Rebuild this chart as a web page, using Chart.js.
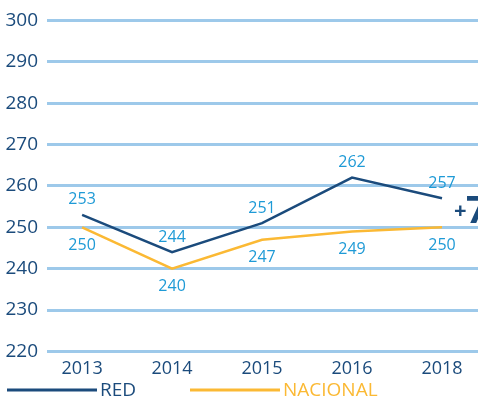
<!DOCTYPE html>
<html lang="es">
<head>
  <meta charset="UTF-8">
  <title>RED vs NACIONAL</title>
  <script src="https://cdn.jsdelivr.net/npm/chart.js@4/dist/chart.umd.min.js"></script>
  <style>
    body { margin: 0; background: #fff; }
    #wrap { width: 478px; height: 402px; }
  </style>
</head>
<body>
  <div id="wrap"><canvas id="myChart"></canvas></div>
  <script>
    const years = ['2013', '2014', '2015', '2016', '2018']
    const red = [253, 244, 251, 262, 257]
    const nacional = [250, 240, 247, 249, 250]
    const yTicks = [220, 230, 240, 250, 260, 270, 280, 290, 300]
    const diffText = '7'

    const NAVY = '#1b4b7c'
    const YELLOW = '#fbb934'
    const LABEL = '#1e9ad6'
    const GRID = '#9dc9ea'
    const FONT = '"Open Sans", "Noto Sans", sans-serif'

    const toPoints = arr => arr.map((v, i) => ({ x: i, y: v }))

    // value labels, "+7" and the legend are drawn by hand
    const extras = {
      id: 'extras',
      afterDatasetsDraw(chart) {
        const ctx = chart.ctx
        ctx.save()
        ctx.font = '16px ' + FONT
        ctx.fillStyle = LABEL
        ctx.textAlign = 'center'
        ctx.textBaseline = 'middle'
        chart.data.datasets.forEach((ds, di) => {
          const meta = chart.getDatasetMeta(di)
          meta.data.forEach((pt, i) => {
            ctx.fillText(String(ds.data[i].y), pt.x, pt.y + ds.labelShift)
          })
        })

        // +7 next to the last RED point
        const last = chart.getDatasetMeta(0).data[red.length - 1]
        const yMid = chart.scales.y.getPixelForValue((red[red.length - 1] + nacional[nacional.length - 1]) / 2)
        ctx.fillStyle = NAVY
        ctx.textAlign = 'left'
        ctx.textBaseline = 'alphabetic'
        ctx.font = 'bold 22px ' + FONT
        ctx.fillText('+', last.x + 12, yMid + 5)
        ctx.font = 'bold 38px ' + FONT
        ctx.fillText(diffText, last.x + 24, yMid + 10)

        // legend
        const ly = chart.height - 12
        const items = [{ x: 7 }, { x: 190 }]
        chart.data.datasets.forEach((ds, di) => {
          const x0 = items[di].x
          ctx.strokeStyle = ds.borderColor
          ctx.lineWidth = 3
          ctx.beginPath()
          ctx.moveTo(x0, ly)
          ctx.lineTo(x0 + 90, ly)
          ctx.stroke()
          ctx.fillStyle = ds.borderColor
          ctx.font = '19px ' + FONT
          ctx.textBaseline = 'middle'
          ctx.fillText(ds.label, x0 + 93, ly + 1)
        })
        ctx.restore()
      }
    }

    const ctx = document.getElementById('myChart').getContext('2d')
    const chart = new Chart(ctx, {
      type: 'line',
      data: {
        datasets: [
          {
            label: 'RED',
            data: toPoints(red),
            borderColor: NAVY,
            backgroundColor: NAVY,
            borderWidth: 2.5,
            pointRadius: 0,
            tension: 0,
            labelShift: -15
          },
          {
            label: 'NACIONAL',
            data: toPoints(nacional),
            borderColor: YELLOW,
            backgroundColor: YELLOW,
            borderWidth: 2.5,
            pointRadius: 0,
            tension: 0,
            labelShift: 18
          }
        ]
      },
      options: {
        responsive: true,
        maintainAspectRatio: false,
        animation: false,
        layout: { padding: { top: 10, right: 0, left: 0, bottom: 23 } },
        plugins: {
          legend: { display: false },
          tooltip: { enabled: false }
        },
        scales: {
          x: {
            type: 'linear',
            min: -0.39,
            max: 4.4,
            afterBuildTicks: scale => {
              scale.ticks = years.map((_, i) => ({ value: i }))
            },
            ticks: {
              callback: v => years[v],
              autoSkip: false,
              maxRotation: 0,
              padding: -1,
              color: NAVY,
              font: { size: 18, family: FONT }
            },
            grid: { display: false },
            border: { display: false }
          },
          y: {
            min: 220,
            max: 300,
            afterBuildTicks: scale => {
              scale.ticks = yTicks.map(v => ({ value: v }))
            },
            afterFit: scale => { scale.width = 47 },
            ticks: {
              padding: 9,
              color: NAVY,
              font: { size: 19, family: FONT }
            },
            grid: { color: GRID, lineWidth: 3, drawTicks: false },
            border: { display: false }
          }
        }
      },
      plugins: [extras]
    })
  </script>
</body>
</html>
